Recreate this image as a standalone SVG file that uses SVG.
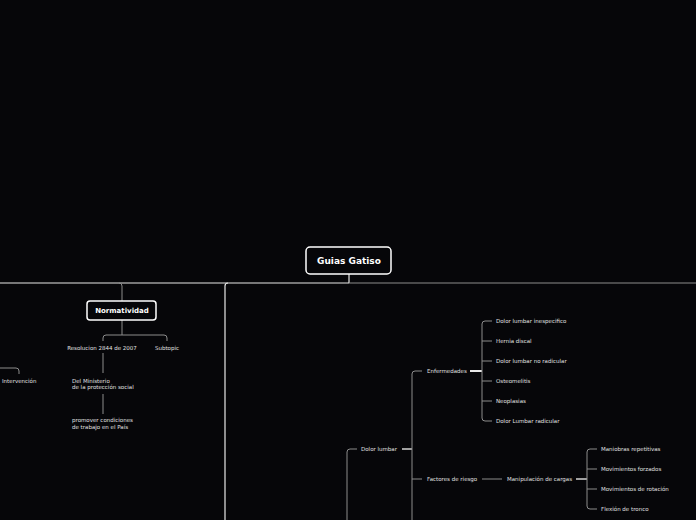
<svg xmlns="http://www.w3.org/2000/svg" width="696" height="520" viewBox="0 0 696 520">
<style>
.bg{fill:#060609}
.box{fill:#060609;stroke:#ffffff;stroke-width:1.5}
.t{font-family:"DejaVu Sans",sans-serif;font-size:5.5px;fill:#e0e0e0}
.tb{font-family:"DejaVu Sans",sans-serif;font-weight:bold;fill:#ffffff;text-anchor:middle}
.lw{fill:none;stroke:#e8e8e8;stroke-width:1.2}
.lg{fill:none;stroke:#8c8c8c;stroke-width:1}
.stem{fill:none;stroke:#e8e8e8;stroke-width:2}
.stemg{fill:none;stroke:#a0a0a0;stroke-width:2}
</style>
<rect class="bg" x="0" y="0" width="696" height="520"/>
<g id="connectors">
<path class="lw" d="M349,274 V283"/>
<path class="lw" d="M0,283 H349"/>
<path class="lg" d="M349,283 H696"/>
<path class="lw" d="M225,520 V286 Q225,283 228,283"/>
<path class="lg" d="M119,283 Q122,283 122,286 V301"/>
<path class="lg" d="M122,320 V335"/>
<path class="lg" d="M103,341 V338 Q103,335 106,335 H164 Q167,335 167,338 V341"/>
<path class="lg" d="M103,353 V373"/>
<path class="lg" d="M103,394 V414"/>
<path class="lg" d="M0,368 H16 Q19,368 19,371 V374"/>
<path class="lg" d="M357,449 H350 Q347,449 347,452 V520"/>
<path class="stemg" d="M402,449 H412"/>
<path class="lg" d="M412,520 V374 Q412,371 415,371 H422"/>
<path class="lg" d="M412,479 H422"/>
<path class="stem" d="M470,371 H482"/>
<path class="lg" d="M492,321 H485 Q482,321 482,324 V418 Q482,421 485,421 H492"/>
<path class="lg" d="M482,341 H492 M482,361 H492 M482,381 H492 M482,401 H492"/>
<path class="lg" d="M482,479 H502"/>
<path class="stemg" d="M576,479 H587"/>
<path class="lg" d="M597,449 H590 Q587,449 587,452 V506 Q587,509 590,509 H597"/>
<path class="lg" d="M587,469 H597 M587,489 H597"/>
</g>
<g id="root">
<rect class="box" x="306" y="247" width="85" height="27" rx="4"/>
<text class="tb" x="349" y="264.2" font-size="9">Guias Gatiso</text>
</g>
<g id="normatividad">
<rect class="box" x="87" y="301" width="69" height="19" rx="3"/>
<text class="tb" x="122" y="313" font-size="7">Normatividad</text>
</g>
<g id="resolucion"><text class="t" x="102" y="350" text-anchor="middle">Resolucion 2844 de 2007</text></g>
<g id="subtopic"><text class="t" x="167" y="350" text-anchor="middle">Subtopic</text></g>
<g id="ministerio"><text class="t" x="72" y="383">Del Ministerio</text><text class="t" x="72" y="389">de la protección social</text></g>
<g id="promover"><text class="t" x="72" y="422">promover condiciones</text><text class="t" x="72" y="429">de trabajo en el País</text></g>
<g id="intervencion"><text class="t" x="2" y="383">Intervención</text></g>
<g id="dolor-lumbar"><text class="t" x="361" y="451">Dolor lumbar</text></g>
<g id="enfermedades"><text class="t" x="427" y="373">Enfermedades</text></g>
<g id="e1"><text class="t" x="496" y="323">Dolor lumbar inespecifico</text></g>
<g id="e2"><text class="t" x="496" y="343">Hernia discal</text></g>
<g id="e3"><text class="t" x="496" y="363">Dolor lumbar no radicular</text></g>
<g id="e4"><text class="t" x="496" y="383">Osteomelitis</text></g>
<g id="e5"><text class="t" x="496" y="403">Neoplasias</text></g>
<g id="e6"><text class="t" x="496" y="423">Dolor Lumbar radicular</text></g>
<g id="factores"><text class="t" x="427" y="481">Factores de riesgo</text></g>
<g id="manipulacion"><text class="t" x="507" y="481">Manipulación de cargas</text></g>
<g id="m1"><text class="t" x="601" y="451">Maniobras repetitivas</text></g>
<g id="m2"><text class="t" x="601" y="471">Movimientos forzados</text></g>
<g id="m3"><text class="t" x="601" y="491">Movimientos de rotación</text></g>
<g id="m4"><text class="t" x="601" y="511">Flexión de tronco</text></g>
</svg>
